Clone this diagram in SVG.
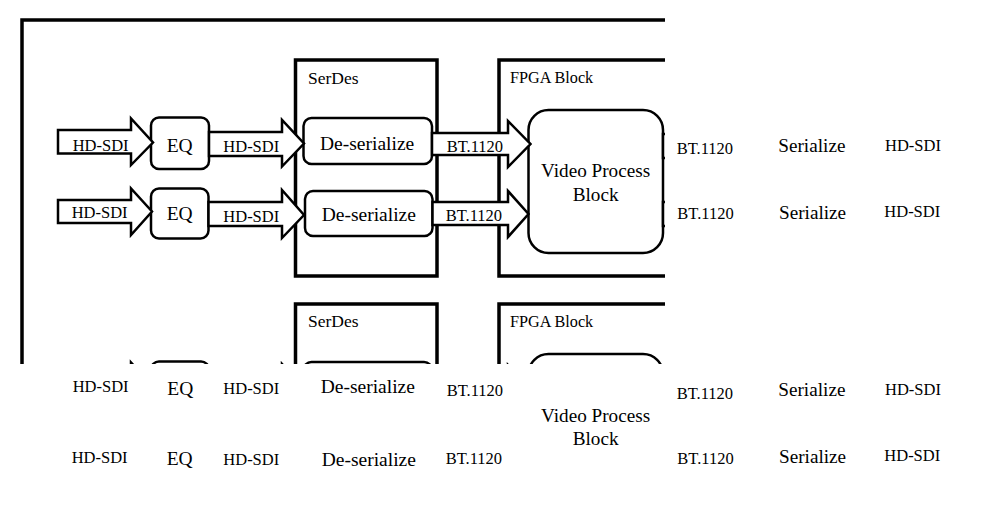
<svg xmlns="http://www.w3.org/2000/svg" width="1008" height="511" viewBox="0 0 1008 511">
<style>
text{font-family:'Liberation Serif','DejaVu Serif',serif;fill:#000}
.s{font-size:16.5px}
.l{font-size:19.5px}
.m{font-size:19.2px}
.frame{fill:none;stroke:#000;stroke-width:3.5}
.box{fill:#fff;stroke:#000;stroke-width:2.5}
.arr{fill:#fff;stroke:#000;stroke-width:2.5;stroke-linejoin:miter}
</style>
<defs>
<clipPath id="vis"><rect x="0" y="0" width="665" height="364"/></clipPath>
</defs>
<rect width="1008" height="511" fill="#fff"/>

<!-- outer frame -->
<g id="board"><rect class="frame" x="22" y="20" width="760" height="480" clip-path="url(#vis)"/></g>

<!-- ===== upper channel ===== -->
<g id="serdes1"><rect class="frame" x="295.5" y="60" width="141.5" height="216" clip-path="url(#vis)"/><text x="308" y="84" font-family="Liberation Serif" style="font-size:17.5px">SerDes</text></g>
<g id="fpga1"><rect class="frame" x="499" y="60" width="300" height="216" clip-path="url(#vis)"/><text x="510" y="83" font-family="Liberation Serif" style="font-size:16.2px">FPGA Block</text></g>

<g id="eq1a"><rect class="box" x="151" y="117.5" width="58" height="51.5" rx="8" clip-path="url(#vis)"/><text class="l" x="166.7" y="151.5">EQ</text></g>
<g id="eq1b"><rect class="box" x="151" y="188.5" width="57.5" height="50" rx="8" clip-path="url(#vis)"/><text class="l" x="166.7" y="220">EQ</text></g>
<g id="deser1a"><rect class="box" x="303.5" y="118" width="128.5" height="46" rx="8" clip-path="url(#vis)"/><text class="l" x="320" y="149.5">De-serialize</text></g>
<g id="deser1b"><rect class="box" x="305" y="191" width="127.5" height="45" rx="8" clip-path="url(#vis)"/><text class="l" x="321.7" y="221">De-serialize</text></g>
<g id="vpb1"><rect class="box" x="528.5" y="110" width="134.5" height="143" rx="20" clip-path="url(#vis)"/><text class="m" x="541" y="177">Video Process</text><text class="m" x="572.7" y="200.5">Block</text></g>
<g id="ser1a"><text class="m" x="778.3" y="152">Serialize</text></g>
<g id="ser1b"><text class="m" x="779" y="219">Serialize</text></g>

<!-- ===== lower channel ===== -->
<g id="serdes2"><rect class="frame" x="295.5" y="304" width="141.5" height="216" clip-path="url(#vis)"/><text x="308" y="327" font-family="Liberation Serif" style="font-size:17.5px">SerDes</text></g>
<g id="fpga2"><rect class="frame" x="499" y="304" width="300" height="216" clip-path="url(#vis)"/><text x="510" y="326.7" font-family="Liberation Serif" style="font-size:16.2px">FPGA Block</text></g>

<g id="eq2a"><rect class="box" x="151" y="361.5" width="58" height="51.5" rx="8" clip-path="url(#vis)"/><text class="l" x="167.3" y="395">EQ</text></g>
<g id="eq2b"><rect class="box" x="151" y="432.5" width="57.5" height="50" rx="8" clip-path="url(#vis)"/><text class="l" x="166.7" y="465">EQ</text></g>
<g id="deser2a"><rect class="box" x="303.5" y="362" width="128.5" height="46" rx="8" clip-path="url(#vis)"/><text class="l" x="320.7" y="393">De-serialize</text></g>
<g id="deser2b"><rect class="box" x="305" y="435" width="127.5" height="45" rx="8" clip-path="url(#vis)"/><text class="l" x="321.7" y="466">De-serialize</text></g>
<g id="vpb2"><rect class="box" x="528.5" y="354" width="134.5" height="143" rx="20" clip-path="url(#vis)"/><text class="m" x="541" y="421.6">Video Process</text><text class="m" x="572.7" y="445">Block</text></g>
<g id="ser2a"><text class="m" x="778.3" y="396">Serialize</text></g>
<g id="ser2b"><text class="m" x="779" y="463">Serialize</text></g>

<!-- ===== connectors ===== -->
<g id="connectors">
  <g clip-path="url(#vis)">
    <polygon class="arr" points="58,130 131,130 131,118.5 153,142.5 131,165 131,153.5 58,153.5"/>
    <polygon class="arr" points="58,200 131,200 131,188.5 152,211.5 131,235 131,223 58,223"/>
    <polygon class="arr" points="209,132 282,132 282,120 304,143.5 282,166.5 282,156 209,156"/>
    <polygon class="arr" points="208.5,202 282,202 282,190 304,215 282,238 282,226 208.5,226"/>
    <polygon class="arr" points="432,133 508,133 508,121 530.5,144 508,167 508,155 432,155"/>
    <polygon class="arr" points="432.5,202 508,202 508,191 528.5,214 508,237 508,225 432.5,225"/>
    <polygon class="arr" points="663,134 740,134 740,122 762,146 740,170 740,158 663,158"/>
    <polygon class="arr" points="663,202 740,202 740,190 762,214 740,238 740,226 663,226"/>
    <polygon class="arr" points="58,374 131,374 131,362.5 153,386.5 131,409 131,397.5 58,397.5"/>
    <polygon class="arr" points="58,444 131,444 131,432.5 152,455.5 131,479 131,467 58,467"/>
    <polygon class="arr" points="209,376 282,376 282,364 304,387.5 282,410.5 282,400 209,400"/>
    <polygon class="arr" points="208.5,446 282,446 282,434 304,459 282,482 282,470 208.5,470"/>
    <polygon class="arr" points="432,377 508,377 508,365 530.5,388 508,411 508,399 432,399"/>
    <polygon class="arr" points="432.5,446 508,446 508,435 528.5,458 508,481 508,469 432.5,469"/>
  </g>
  <text class="s" x="72.7" y="151">HD-SDI</text>
  <text class="s" x="71.7" y="218">HD-SDI</text>
  <text class="s" x="223.3" y="152">HD-SDI</text>
  <text class="s" x="223.3" y="222">HD-SDI</text>
  <text class="s" x="446.7" y="152">BT.1120</text>
  <text class="s" x="445.7" y="221">BT.1120</text>
  <text class="s" x="676.7" y="154">BT.1120</text>
  <text class="s" x="677.3" y="219">BT.1120</text>
  <text class="s" x="885" y="151">HD-SDI</text>
  <text class="s" x="884.3" y="216.5">HD-SDI</text>
  <text class="s" x="72.7" y="392">HD-SDI</text>
  <text class="s" x="71.7" y="463">HD-SDI</text>
  <text class="s" x="223.3" y="394">HD-SDI</text>
  <text class="s" x="223.3" y="465">HD-SDI</text>
  <text class="s" x="446.7" y="395.5">BT.1120</text>
  <text class="s" x="445.7" y="464">BT.1120</text>
  <text class="s" x="676.7" y="399">BT.1120</text>
  <text class="s" x="677.3" y="464">BT.1120</text>
  <text class="s" x="885" y="395">HD-SDI</text>
  <text class="s" x="884.3" y="461">HD-SDI</text>
</g>
</svg>
